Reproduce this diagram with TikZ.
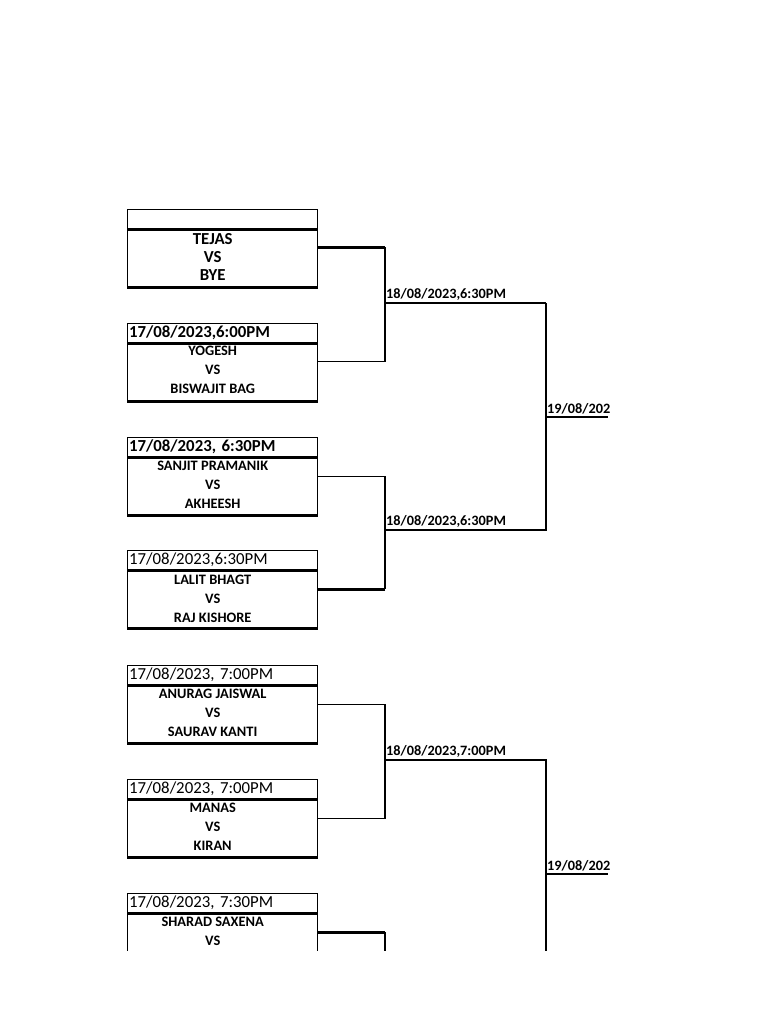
\documentclass[tikz,border=0pt]{standalone}
\usepackage{fontspec}
\setmainfont{Carlito}
\usetikzlibrary{positioning}
\frenchspacing

\begin{document}
\begin{tikzpicture}[x=1pt,y=-1pt,
		hdr/.style={draw,line width=1.4pt,anchor=north west,inner xsep=1.5pt,inner ysep=0pt,text width=187pt,align=left,minimum height=19pt,font=\fontsize{16.8}{18}\selectfont},
		body/.style={draw,line width=1.4pt,minimum width=190pt,minimum height=57pt,inner sep=0pt},
		names/.style={align=center,font=\fontsize{14.4}{19}\selectfont\bfseries,inner sep=0pt},
		big/.style={align=center,font=\fontsize{16.8}{18}\selectfont\bfseries,inner sep=0pt},
		thin/.style={line width=1.3pt},
		thick/.style={line width=2.4pt},
		date/.style={anchor=south west,inner xsep=1pt,inner ysep=2.5pt,font=\fontsize{14.3}{16}\selectfont\bfseries}]
	\useasboundingbox[fill=white] (0,0) rectangle (768,1024);
	\clip (0,0) rectangle (768,950);

	% first round
	\node[hdr]						(h1)	at (127,209)	{};
	\node[body,below=0pt of h1]		(b1)	{};
	\node[big]						(n1)	at ([xshift=-10pt,yshift=2pt]b1.center)	{TEJAS\\VS\\BYE};

	\node[hdr]						(h2)	at (127,323)	{\bfseries 17/08/2023,6:00PM};
	\node[body,below=0pt of h2]		(b2)	{};
	\node[names]					(n2)	at ([xshift=-10pt,yshift=3pt]b2.center)	{YOGESH\\VS\\BISWAJIT BAG};

	\node[hdr]						(h3)	at (127,437)	{\bfseries 17/08/2023, 6:30PM};
	\node[body,below=0pt of h3]		(b3)	{};
	\node[names]					(n3)	at ([xshift=-10pt,yshift=1.5pt]b3.center)	{SANJIT PRAMANIK\\VS\\AKHEESH};

	\node[hdr]						(h4)	at (127,550)	{17/08/2023,6:30PM};
	\node[body,below=0pt of h4]		(b4)	{};
	\node[names]					(n4)	at ([xshift=-10pt,yshift=1pt]b4.center)	{LALIT BHAGT\\VS\\RAJ KISHORE};

	\node[hdr]						(h5)	at (127,665)	{17/08/2023, 7:00PM};
	\node[body,below=0pt of h5]		(b5)	{};
	\node[names]					(n5)	at ([xshift=-10pt,yshift=2pt]b5.center)	{ANURAG JAISWAL\\VS\\SAURAV KANTI};

	\node[hdr]						(h6)	at (127,779)	{17/08/2023, 7:00PM};
	\node[body,below=0pt of h6]		(b6)	{};
	\node[names]					(n6)	at ([xshift=-10pt,yshift=2pt]b6.center)	{MANAS\\VS\\KIRAN};

	\node[hdr]						(h7)	at (127,893)	{17/08/2023, 7:30PM};
	\node[body,below=0pt of h7]		(b7)	{};
	\node[names]					(n7)	at ([xshift=-10pt,yshift=2pt]b7.center)	{SHARAD SAXENA\\VS\\};

	% thick rules
	\foreach \b in {b1,b2,b3,b4,b5,b6,b7} {
		\draw[thick] (\b.north west) -- (\b.north east);
		\draw[thick] (\b.south west) -- (\b.south east);
	}

	% connector points
	\coordinate (c1) at ([yshift=-18pt]b1.north east);
	\coordinate (c2) at ([yshift=-18pt]b2.north east);
	\coordinate (c3) at ([yshift=-19pt]b3.north east);
	\coordinate (c4) at ([yshift=-19pt]b4.north east);
	\coordinate (c5) at ([yshift=-19pt]b5.north east);
	\coordinate (c6) at ([yshift=-19pt]b6.north east);
	\coordinate (c7) at ([yshift=-19pt]b7.north east);

	\coordinate (r1) at (385,303);
	\coordinate (r2) at (385,530);
	\coordinate (r3) at (385,760);
	\coordinate (r4) at (385,988);

	\coordinate (s1) at (546,417);
	\coordinate (s2) at (546,874);

	\coordinate (f1) at (608,417);
	\coordinate (f2) at (608,874);

	% second round
	\draw[thick] (c1) -- (c1 -| r1);
	\draw[thin] (c1 -| r1) -- (c2 -| r1) -- (c2);
	\draw[thin] (c3) -- (c3 -| r2) -- (c4 -| r2);
	\draw[thick] (c4 -| r2) -- (c4);
	\draw[thin] (c5) -- (c5 -| r3) -- (c6 -| r3) -- (c6);
	\draw[thick] (c7) -- (c7 -| r4);
	\draw[thin] (c7 -| r4) -- ++(0,30);

	\node[date]	(l1)	at (r1)	{18/08/2023,6:30PM};
	\node[date]	(l2)	at (r2)	{18/08/2023,6:30PM};
	\node[date]	(l3)	at (r3)	{18/08/2023,7:00PM};

	% third round
	\draw[thin] (r1) -- (r1 -| s1);
	\draw[thick] (r1 -| s1) -- (r2 -| s1) -- (r2);
	\draw[thick] (r3) -- (r3 -| s2) -- (r4 -| s2);

	\node[date]	(l4)	at (s1)	{19/08/202};
	\node[date]	(l5)	at (s2)	{19/08/202};

	\draw[thick] (s1) -- (f1);
	\draw[thin] (s2) -- (f2);
\end{tikzpicture}
\end{document}
